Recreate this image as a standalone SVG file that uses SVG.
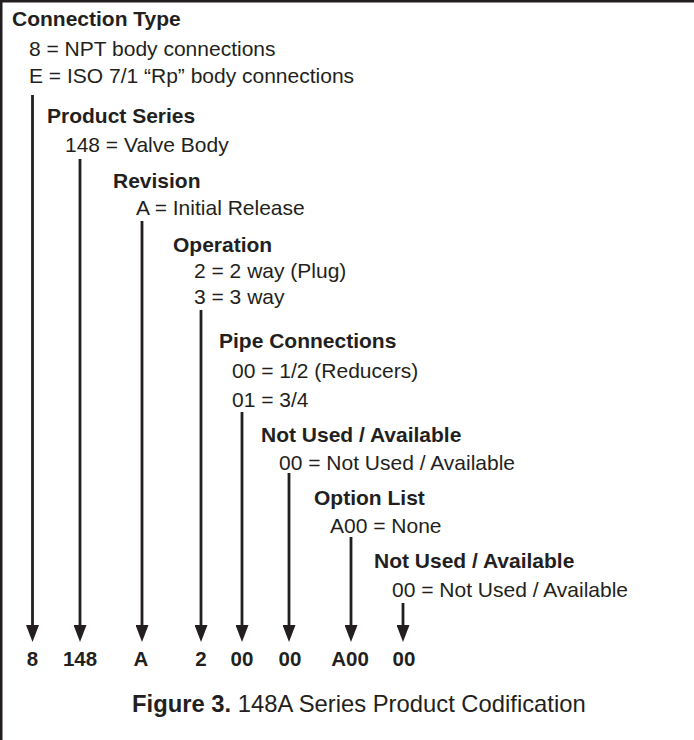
<svg xmlns="http://www.w3.org/2000/svg" width="694" height="740" viewBox="0 0 694 740">
<style>
text{font-family:"Liberation Sans",Arial,sans-serif;fill:#231f20;font-size:21px}
.h{font-weight:bold}
.c{font-weight:bold;text-anchor:middle;font-size:20.5px}
.cap{font-size:23.8px}
.conn line{stroke:#231f20;stroke-width:2.8;fill:none}
.frame{stroke:#231f20;stroke-width:2.5;fill:none}
</style>
<defs>
<marker id="ah" markerUnits="userSpaceOnUse" markerWidth="17" markerHeight="13" viewBox="0 -6.5 17 13" refX="0" refY="0" orient="auto">
<path d="M0,-6.5 L17,0 L0,6.5 z" fill="#231f20"/>
</marker>
</defs>
<rect width="694" height="740" fill="#fff"/>
<path class="frame" d="M1.25,740 V1.25 H694"/>
<g id="connection-type">
<text class="h" x="12" y="26">Connection Type</text>
<text x="29" y="56">8 = NPT body connections</text>
<text x="29" y="83">E = ISO 7/1 “Rp” body connections</text>
</g>
<g id="product-series">
<text class="h" x="47" y="123">Product Series</text>
<text x="65" y="152">148 = Valve Body</text>
</g>
<g id="revision">
<text class="h" x="113" y="188">Revision</text>
<text x="136" y="215">A = Initial Release</text>
</g>
<g id="operation">
<text class="h" x="173" y="252">Operation</text>
<text x="194" y="278">2 = 2 way (Plug)</text>
<text x="194" y="304">3 = 3 way</text>
</g>
<g id="pipe-connections">
<text class="h" x="219" y="348">Pipe Connections</text>
<text x="232" y="378">00 = 1/2 (Reducers)</text>
<text x="232" y="407">01 = 3/4</text>
</g>
<g id="not-used-1">
<text class="h" x="261" y="442">Not Used / Available</text>
<text x="279" y="470">00 = Not Used / Available</text>
</g>
<g id="option-list">
<text class="h" x="314" y="505">Option List</text>
<text x="330" y="533">A00 = None</text>
</g>
<g id="not-used-2">
<text class="h" x="374" y="568">Not Used / Available</text>
<text x="392" y="597">00 = Not Used / Available</text>
</g>
<g id="connectors" class="conn">
<line x1="32.5" y1="95" x2="32.5" y2="625" marker-end="url(#ah)"/>
<line x1="80" y1="159" x2="80" y2="625" marker-end="url(#ah)"/>
<line x1="142" y1="221" x2="142" y2="625" marker-end="url(#ah)"/>
<line x1="201" y1="310" x2="201" y2="625" marker-end="url(#ah)"/>
<line x1="242" y1="412" x2="242" y2="625" marker-end="url(#ah)"/>
<line x1="289" y1="473" x2="289" y2="625" marker-end="url(#ah)"/>
<line x1="351" y1="537" x2="351" y2="625" marker-end="url(#ah)"/>
<line x1="403" y1="603" x2="403" y2="625" marker-end="url(#ah)"/>
</g>
<g id="code">
<text class="c" x="32.5" y="666">8</text>
<text class="c" x="80" y="666">148</text>
<text class="c" x="141" y="666">A</text>
<text class="c" x="201" y="666">2</text>
<text class="c" x="242" y="666">00</text>
<text class="c" x="290" y="666">00</text>
<text class="c" x="350" y="666">A00</text>
<text class="c" x="404" y="666">00</text>
</g>
<g id="caption">
<text class="cap" x="132" y="712"><tspan font-weight="bold">Figure 3.</tspan> 148A Series Product Codification</text>
</g>
</svg>
